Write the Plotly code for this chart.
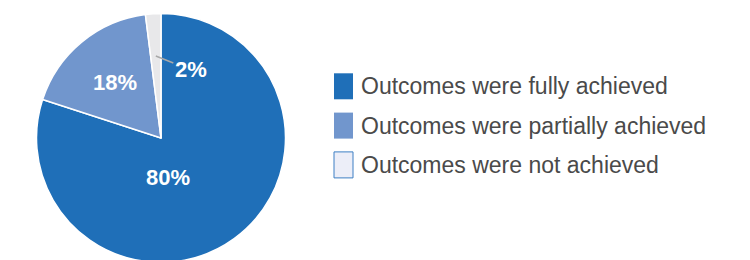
import math
import plotly.graph_objects as go

labels = ["Outcomes were fully achieved", "Outcomes were partially achieved", "Outcomes were not achieved"]
values = [80, 18, 2]
slice_colors = ["#1f6fb8", "#7196cd", "#e8e8ea"]
swatch_colors = ["#1f6fb8", "#7196cd", "#eceef8"]
swatch_borders = [None, None, "#3d7fc4"]

W, H = 750, 260
OFF = 8  # default page body margin
FONT = "Liberation Sans, Arial, Helvetica"


def paper(x, y):
    """screen pixel -> paper coords"""
    return (x - OFF) / W, 1 - (y - OFF) / H


# pie geometry in screen pixels
CX, CY, R = 161, 138, 124.5
dx0, _ = paper(CX - R, 0)
dx1, _ = paper(CX + R, 0)
_, dy1 = paper(0, CY - R)
_, dy0 = paper(0, CY + R)

fig = go.Figure()
fig.add_trace(go.Pie(
    labels=labels, values=values, sort=False, direction="clockwise", rotation=0,
    marker=dict(colors=slice_colors, line=dict(color="white", width=1.5)),
    textinfo="none",
    domain=dict(x=[dx0, dx1], y=[dy0, dy1]),
    showlegend=False, hoverinfo="label+percent",
))

# slice labels, positioned in the pie's polar frame from the data angles
total = sum(values)
label_r = [0.32, 0.58, 0.66]
label_turn = [26, 0, 0]  # degrees of extra rotation for the big slice's label
cum = 0
for i, v in enumerate(values):
    mid = math.radians((cum + v / 2) / total * 360 + label_turn[i])
    cum += v
    x = CX + label_r[i] * R * math.sin(mid)
    y = CY - label_r[i] * R * math.cos(mid)
    px, py = paper(x, y)
    pct = "<b>%d%%</b>" % round(v / total * 100)
    if i < 2:
        fig.add_annotation(x=px, y=py, xref="paper", yref="paper", text=pct, showarrow=False,
                           xanchor="center", yanchor="middle",
                           font=dict(color="white", size=22, family=FONT))
    else:
        fig.add_annotation(x=px, y=py, xref="paper", yref="paper", text=pct,
                           showarrow=True, arrowhead=0, arrowwidth=1.5, arrowcolor="#a8a8a8",
                           ax=35, ay=14, standoff=0,
                           font=dict(color="white", size=22, family=FONT))

# custom legend
sw_x0, sw_x1 = 334, 353
row0, pitch, sw_h = 86.3, 39.3, 26
for i, lab in enumerate(labels):
    yc = row0 + pitch * i
    x0, y0 = paper(sw_x0, yc - sw_h / 2)
    x1, y1 = paper(sw_x1, yc + sw_h / 2)
    fig.add_shape(
        type="rect", xref="paper", yref="paper", x0=x0, x1=x1, y0=y0, y1=y1,
        fillcolor=swatch_colors[i],
        line=dict(color=swatch_borders[i] or swatch_colors[i], width=1 if swatch_borders[i] else 0),
    )
    tx, ty = paper(359, yc)
    fig.add_annotation(
        x=tx, y=ty, xref="paper", yref="paper", xanchor="left", yanchor="middle",
        text=lab, showarrow=False,
        font=dict(color="#4a4a4a", size=23, family=FONT),
    )

fig.update_layout(
    width=W, height=H, margin=dict(l=0, r=0, t=0, b=0),
    paper_bgcolor="white", plot_bgcolor="white",
)
fig.write_html("out.html")
